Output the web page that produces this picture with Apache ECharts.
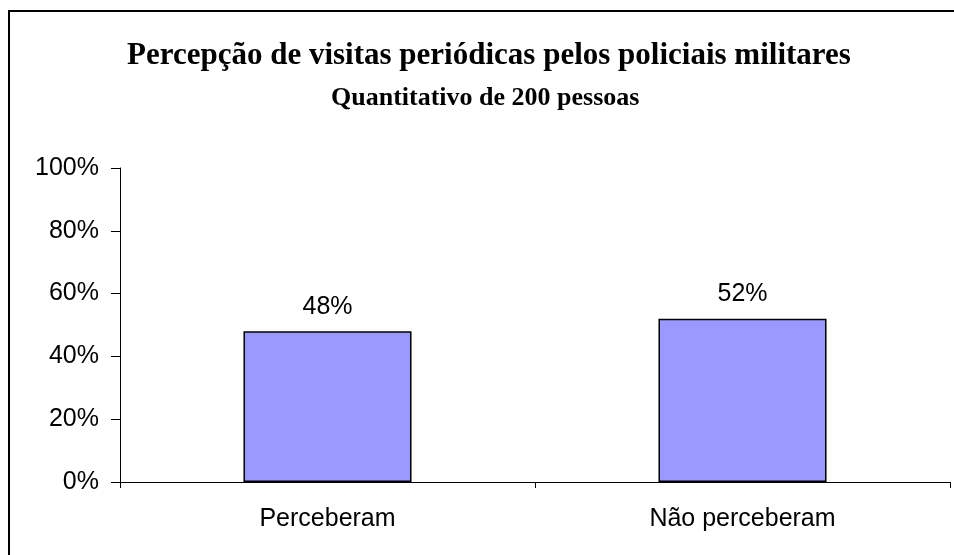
<!DOCTYPE html>
<html>
<head>
<meta charset="utf-8">
<script src="https://cdn.jsdelivr.net/npm/echarts@6/dist/echarts.min.js"></script>
<style>
html,body{margin:0;padding:0;background:#fff;}
#chart{width:954px;height:555px;}
</style>
</head>
<body>
<div id="chart"></div>
<script>
var titleText = 'Percepção de visitas periódicas pelos policiais militares';
var subtitleText = 'Quantitativo de 200 pessoas';
var categories = ['Perceberam', 'Não perceberam'];
var values = [48, 52];
var yTicks = [0, 20, 40, 60, 80, 100];

var chart = echarts.init(document.getElementById('chart'), null, {renderer: 'canvas'});
chart.setOption({
  backgroundColor: '#ffffff',
  animation: false,
  title: [{
    text: titleText,
    left: 122,
    top: 35,
    textStyle: {fontFamily: 'Liberation Serif', fontWeight: 'bold', fontSize: 31, color: '#000'}
  }, {
    text: subtitleText,
    left: 326,
    top: 80,
    textStyle: {fontFamily: 'Liberation Serif', fontWeight: 'bold', fontSize: 26, color: '#000'}
  }],
  graphic: [{
    type: 'rect',
    shape: {x: 9, y: 11, width: 970, height: 570},
    style: {fill: 'none', stroke: '#000', lineWidth: 2},
    silent: true
  }],
  grid: {left: 120, right: 4, top: 168, bottom: 73, containLabel: false},
  xAxis: {
    type: 'category',
    data: categories,
    axisLine: {show: true, lineStyle: {color: '#000', width: 1}},
    axisTick: {show: true, length: 6, lineStyle: {color: '#000'}},
    axisLabel: {color: '#000', fontFamily: 'Liberation Sans', fontSize: 25, margin: 25}
  },
  yAxis: {
    type: 'value',
    min: yTicks[0],
    max: yTicks[yTicks.length - 1],
    interval: yTicks[1] - yTicks[0],
    axisLine: {show: true, lineStyle: {color: '#000', width: 1}},
    axisTick: {show: true, length: 9, lineStyle: {color: '#000'}},
    splitLine: {show: false},
    axisLabel: {color: '#000', fontFamily: 'Liberation Sans', fontSize: 25, margin: 21, formatter: '{value}%'}
  },
  series: [{
    type: 'bar',
    data: values,
    barWidth: '40.5%',
    itemStyle: {color: '#9999FF', borderColor: '#000', borderWidth: 1.5},
    label: {
      show: true,
      position: 'top',
      distance: 12,
      formatter: '{c}%',
      color: '#000',
      fontFamily: 'Liberation Sans',
      fontSize: 25
    }
  }]
});
</script>
</body>
</html>
